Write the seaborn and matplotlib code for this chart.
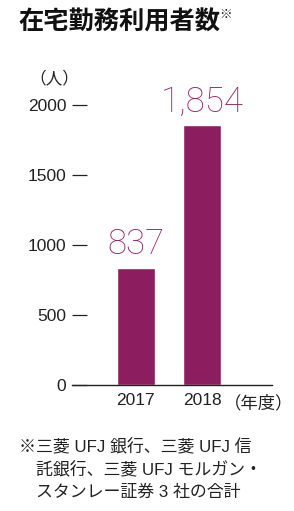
import matplotlib
matplotlib.use("Agg")
import matplotlib.pyplot as plt
import seaborn as sns
import pandas as pd

# data
years = ["2017", "2018"]
users = [837, 1854]
value_labels = ["837", "1,854"]
y_ticks = [0, 500, 1000, 1500, 2000]

title = "在宅勤務利用者数"
unit_label = "（人）"
year_label = "（年度）"
note_lines = ["※三菱 UFJ 銀行、三菱 UFJ 信",
              "託銀行、三菱 UFJ モルガン・",
              "スタンレー証券 3 社の合計"]

sns.set_theme(style="white")
plt.rcParams['font.family'] = ['Liberation Sans', 'Noto Sans CJK JP', 'DejaVu Sans']

W, H = 294, 511
fig = plt.figure(figsize=(W / 100, H / 100), dpi=100)
fig.patch.set_facecolor("white")

# axes placed in pixel coordinates (top-left origin)
ax_left, ax_right, ax_bottom, ax_top = 72, 272, 385, 91
ax = fig.add_axes([ax_left / W, 1 - ax_bottom / H,
                   (ax_right - ax_left) / W, (ax_bottom - ax_top) / H])

df = pd.DataFrame({"year": years, "users": users})
bar_color = "#8c1d5f"
sns.barplot(data=df, x="year", y="users", color=bar_color, width=0.57,
            saturation=1, ax=ax)

ax.set_xlim(-0.955, 2.05)
ax.set_ylim(0, 2100)
ax.set_yticks(y_ticks)
ax.set_yticklabels([str(t) for t in y_ticks])
ax.set_xlabel("")
ax.set_ylabel("")
ax.set_facecolor("white")

for side in ["left", "right", "top"]:
    ax.spines[side].set_visible(False)
ax.spines["bottom"].set_color("#222222")
ax.spines["bottom"].set_linewidth(1.0)

ax.tick_params(axis="y", direction="in", length=11, width=0.9, color="#222222",
               pad=4, labelsize=12.5, labelcolor="#222222", left=True)
ax.tick_params(axis="x", length=0, pad=6, labelsize=12.5, labelcolor="#222222")

ax.bar_label(ax.containers[0], labels=value_labels, padding=5,
             fontsize=25, color="#95286b", family=["Roboto", "Liberation Sans"],
             fontweight="light")

def px(x, y):
    return x / W, 1 - y / H

fig.text(*px(18, 22), title, fontsize=18.2, fontweight="bold",
         family=["Noto Sans CJK JP"], va="center", ha="left", color="#111111")
fig.text(*px(219, 14), "※", fontsize=9, family=["Noto Sans CJK JP"],
         va="center", ha="left", color="#111111")
fig.text(*px(54, 79), unit_label, fontsize=12, family=["Noto Sans CJK JP"],
         va="center", ha="center", color="#222222")
fig.text(*px(259, 403), year_label, fontsize=12.5, family=["Noto Sans CJK JP"],
         va="center", ha="center", color="#222222")

note_x = [19, 36, 36]
note_y = [446, 469, 492]
for line, xx, yy in zip(note_lines, note_x, note_y):
    fig.text(*px(xx, yy), line, fontsize=12.2,
             family=["Liberation Sans", "Noto Sans CJK JP"],
             va="center", ha="left", color="#222222")

fig.savefig("out.png", dpi=100)
